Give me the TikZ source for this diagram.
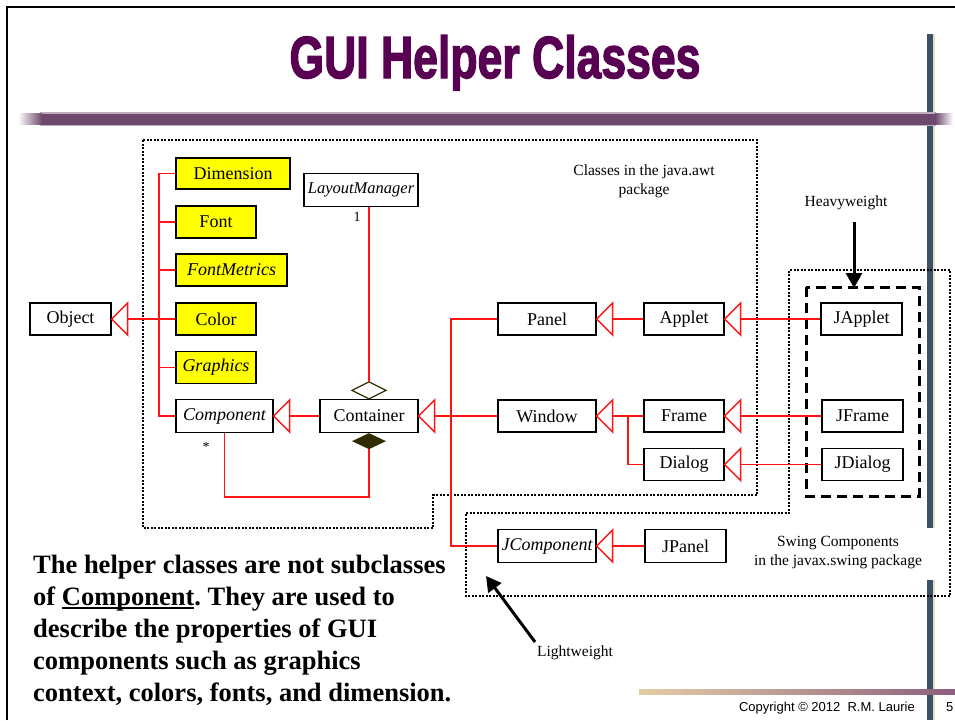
\documentclass[tikz,border=0pt]{standalone}
\usepackage{fontspec}
\usepackage{graphicx}
\setmainfont{Liberation Serif}
\newfontfamily\sansfont{Liberation Sans}
\newfontfamily\titlefont[BoldFeatures={FakeBold=2.5}]{Liberation Sans}
\usetikzlibrary{arrows.meta,shapes.geometric}

\definecolor{titlepurple}{RGB}{88,0,82}
\definecolor{barpurple}{RGB}{110,72,108}
\definecolor{slatebar}{RGB}{58,82,105}
\definecolor{umlred}{RGB}{255,20,20}
\definecolor{helperyellow}{RGB}{255,255,0}
\definecolor{darkolive}{RGB}{48,44,0}
\definecolor{foottan}{RGB}{228,206,166}
\definecolor{footmauve}{RGB}{140,95,125}

\newcommand\boxfont{\fontsize{18}{21}\selectfont}
\newcommand\annfont{\fontsize{15.5}{19}\selectfont}
\newcommand\parafont{\fontsize{26.5}{32}\selectfont\bfseries\frenchspacing}
\newcommand\undr[1]{\setbox0\hbox{#1}\rlap{\rule[-3.5pt]{\wd0}{1.8pt}}\box0}

\tikzset{
  cls/.style={draw=black, line width=1.3pt, fill=white, minimum height=32pt,
    inner sep=0pt, font=\boxfont},
  helper/.style={cls, fill=helperyellow},
  abstractcls/.style={font=\boxfont\itshape},
  rl/.style={draw=umlred, line width=1.5pt},
  ann/.style={font=\annfont, align=center, inner sep=0pt},
  dotregion/.style={draw=black, line width=2.6pt, dash pattern=on 2pt off 1.5pt},
  heavyregion/.style={draw=black, line width=3pt, dash pattern=on 10pt off 6pt},
  pointer/.style={draw=black, line width=3pt, -{Triangle[length=15pt,width=16pt]}},
  para/.style={font=\parafont, anchor=base west, inner sep=0pt},
  gen/.pic={\draw[umlred, line width=1.5pt, fill=white] (0,0) -- (16,-16) -- (16,16) -- cycle;}
}

\begin{document}
\begin{tikzpicture}[x=1pt,y=-1pt]
\useasboundingbox (0,0) rectangle (955,720);
\fill[white] (0,0) rectangle (955,720);

% slide frame
\draw[line width=2pt] (7,720) -- (7,7) -- (955,7);

% right-hand vertical rule
\fill[foottan!70] (933,34) rectangle (934.5,528);
\fill[slatebar] (927,34) rectangle (933,528);
\fill[foottan!70] (933,580) rectangle (934.5,720);
\fill[slatebar] (927,580) rectangle (933,720);

% title rule under the heading
\fill[barpurple!45] (40,112) rectangle (936,126);
\fill[barpurple] (42,113.5) rectangle (935,124.5);
\shade[left color=white, right color=barpurple] (18,113.5) rectangle (42,124.5);
\shade[left color=barpurple, right color=white] (935,113.5) rectangle (953,124.5);

% footer rule
\shade[left color=foottan, right color=footmauve] (639,689) rectangle (955,694);

% title
\node[anchor=base, inner sep=0pt, text=titlepurple] (title) at (495,78)
  {\resizebox{411pt}{43pt}{\titlefont\bfseries GUI Helper Classes}};

% package regions
\draw[dotregion] (143,140) -- (757,140) -- (757,495) -- (433,495) -- (433,528) -- (143,528) -- cycle;
\draw[dotregion] (466,513) -- (789,513) -- (789,270) -- (950,270) -- (950,596) -- (466,596) -- cycle;
\draw[heavyregion] (806,287) rectangle (919,496);

% classes
\node[cls, minimum width=81pt] (obj) at (70.5,319) {Object};
\node[helper, minimum width=114pt, minimum height=31pt] (dim) at (233,173.5) {Dimension};
\node[helper, minimum width=80pt] (font) at (216,222) {Font};
\node[helper, abstractcls, minimum width=111pt] (fm) at (231.5,270) {FontMetrics};
\node[helper, minimum width=80pt] (color) at (216,319) {Color};
\node[helper, abstractcls, minimum width=80pt] (gfx) at (216,367.5) {Graphics};
\node[cls, abstractcls, minimum width=97pt, minimum height=33pt] (comp) at (224.5,416) {Component};
\node[cls, font=\fontsize{16.5}{19}\selectfont\itshape, minimum width=114pt, minimum height=33pt] (lm) at (361,190) {LayoutManager};
\node[cls, minimum width=98pt, minimum height=33pt] (cont) at (369,416) {Container};
\node[cls, minimum width=98pt] (panel) at (547,319) {Panel};
\node[cls, minimum width=98pt] (window) at (547,416) {Window};
\node[cls, minimum width=80pt] (applet) at (684,319) {Applet};
\node[cls, minimum width=80pt] (frame) at (684,416) {Frame};
\node[cls, minimum width=80pt] (dialog) at (684,464.5) {Dialog};
\node[cls, minimum width=81pt] (japplet) at (861.5,319) {JApplet};
\node[cls, minimum width=81pt] (jframe) at (862.5,416) {JFrame};
\node[cls, minimum width=81pt] (jdialog) at (862.5,464.5) {JDialog};
\node[cls, abstractcls, minimum width=98pt, minimum height=33pt] (jcomp) at (547,546) {JComponent};
\node[cls, minimum width=81pt, minimum height=33pt] (jpanel) at (685.5,546) {JPanel};

% helper classes and Component extend Object
\coordinate (spine) at (159,319);
\draw[rl] (dim.west) -- (dim.west -| spine) -- (comp.west -| spine) -- (comp.west);
\foreach \n in {font,fm,color,gfx} \draw[rl] (\n.west) -- (\n.west -| spine);
\draw[rl] (spine) -- ([xshift=16pt]obj.east);
\pic at (obj.east) {gen};

% Container extends Component
\draw[rl] (cont.west) -- ([xshift=16pt]comp.east);
\pic at (comp.east) {gen};

% Window, Panel and JComponent extend Container
\coordinate (bus) at (451,416);
\draw[rl] (window.west) -- ([xshift=16pt]cont.east);
\draw[rl] (panel.west) -- (panel.west -| bus) -- (jcomp.west -| bus) -- (jcomp.west);
\pic at (cont.east) {gen};

% Applet extends Panel, Frame and Dialog extend Window
\draw[rl] (applet.west) -- ([xshift=16pt]panel.east);
\pic at (panel.east) {gen};
\coordinate (dj) at (628,416);
\draw[rl] (frame.west) -- ([xshift=16pt]window.east);
\draw[rl] (dialog.west) -- (dialog.west -| dj) -- (dj);
\pic at (window.east) {gen};

% Swing heavyweight containers
\draw[rl] (japplet.west) -- ([xshift=16pt]applet.east);
\pic at (applet.east) {gen};
\draw[rl] (jframe.west) -- ([xshift=16pt]frame.east);
\pic at (frame.east) {gen};
\draw[rl] (jdialog.west) -- ([xshift=16pt]dialog.east);
\pic at (dialog.east) {gen};

% JPanel extends JComponent
\draw[rl] (jpanel.west) -- ([xshift=16pt]jcomp.east);
\pic at (jcomp.east) {gen};

% Container aggregates a LayoutManager
\node[diamond, draw=darkolive, fill=white, line width=1.3pt, aspect=2, minimum width=34pt,
  minimum height=17pt, inner sep=0pt, outer sep=0pt, anchor=south] (agg) at (cont.north) {};
\draw[rl] (agg.north |- lm.south) -- (agg.north);
\node[font=\fontsize{14}{16}\selectfont, inner sep=0pt] (mult1) at (357,217) {1};

% Container is composed of Components
\node[diamond, fill=darkolive, aspect=2, minimum width=34pt, minimum height=16pt,
  inner sep=0pt, outer sep=0pt, anchor=north] (cmp) at (cont.south) {};
\coordinate (loop) at (224.5,497);
\draw[rl] (comp.south) -- (comp.south |- loop) -- (cmp.south |- loop) -- (cmp.south);
\node[font=\fontsize{14}{16}\selectfont, inner sep=0pt] (mult2) at (206,447) {*};

% annotations
\node[ann] (awtlbl) at (644,181) {Classes in the java.awt\\package};
\node[ann] (swinglbl) at (838,553) {Swing Components\\in the javax.swing package};
\node[ann] (heavylbl) at (846,203) {Heavyweight};
\coordinate (heavytail) at (854,222);
\coordinate (heavytip) at (854,288);
\draw[pointer] (heavytail) -- (heavytip);
\node[ann] (lightlbl) at (575,653) {Lightweight};
\coordinate (lighttail) at (535,642);
\coordinate (lighttip) at (486,576);
\draw[pointer] (lighttail) -- (lighttip);

% explanatory paragraph
\node[para] (p1) at (33,573) {The helper classes are not subclasses};
\node[para] (p2) at (33,605) {of \undr{Component}. They are used to};
\node[para] (p3) at (33,637) {describe the properties of GUI};
\node[para] (p4) at (33,669) {components such as graphics};
\node[para] (p5) at (33,701) {context, colors, fonts, and dimension.};

% footer
\node[font=\sansfont\fontsize{13}{15}\selectfont, anchor=base east, inner sep=0pt] (copy) at (915,711)
  {Copyright \textcopyright{} 2012\ \ R.M. Laurie};
\node[font=\sansfont\fontsize{13}{15}\selectfont, anchor=base west, inner sep=0pt] (pageno) at (946,711) {5};
\end{tikzpicture}
\end{document}
